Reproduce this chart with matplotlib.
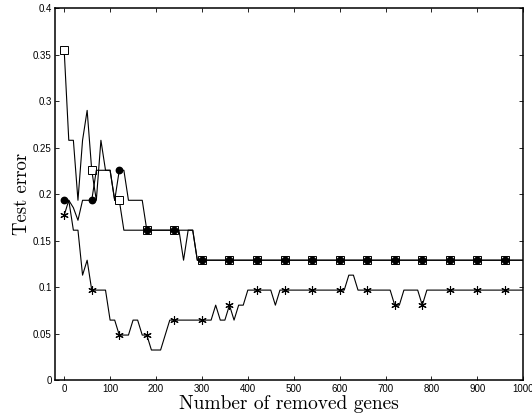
import numpy as np
import matplotlib
matplotlib.use("Agg")
import matplotlib.pyplot as plt
from matplotlib.ticker import FormatStrFormatter, MultipleLocator

# number of removed genes (one point every 10 genes)
genes = np.arange(0, 1001, 10)

# test error curves
err_square = [
    0.3548, 0.2581, 0.2581, 0.1935, 0.2581, 0.2903, 0.2258, 0.1935, 0.2581, 0.2258,
    0.2258, 0.1935, 0.1935, 0.1613, 0.1613, 0.1613, 0.1613, 0.1613, 0.1613, 0.1613,
    0.1613, 0.1613, 0.1613, 0.1613, 0.1613, 0.1613, 0.1613, 0.1613, 0.1613, 0.1290,
    0.1290, 0.1290, 0.1290, 0.1290, 0.1290, 0.1290, 0.1290, 0.1290, 0.1290, 0.1290,
    0.1290, 0.1290, 0.1290, 0.1290, 0.1290, 0.1290, 0.1290, 0.1290, 0.1290, 0.1290,
    0.1290, 0.1290, 0.1290, 0.1290, 0.1290, 0.1290, 0.1290, 0.1290, 0.1290, 0.1290,
    0.1290, 0.1290, 0.1290, 0.1290, 0.1290, 0.1290, 0.1290, 0.1290, 0.1290, 0.1290,
    0.1290, 0.1290, 0.1290, 0.1290, 0.1290, 0.1290, 0.1290, 0.1290, 0.1290, 0.1290,
    0.1290, 0.1290, 0.1290, 0.1290, 0.1290, 0.1290, 0.1290, 0.1290, 0.1290, 0.1290,
    0.1290, 0.1290, 0.1290, 0.1290, 0.1290, 0.1290, 0.1290, 0.1290, 0.1290, 0.1290,
    0.1290]
err_circle = [
    0.1935, 0.1935, 0.1855, 0.1720, 0.1935, 0.1935, 0.1935, 0.2258, 0.2258, 0.2258,
    0.2258, 0.1935, 0.2258, 0.2258, 0.1935, 0.1935, 0.1935, 0.1935, 0.1613, 0.1613,
    0.1613, 0.1613, 0.1613, 0.1613, 0.1613, 0.1613, 0.1290, 0.1613, 0.1613, 0.1290,
    0.1290, 0.1290, 0.1290, 0.1290, 0.1290, 0.1290, 0.1290, 0.1290, 0.1290, 0.1290,
    0.1290, 0.1290, 0.1290, 0.1290, 0.1290, 0.1290, 0.1290, 0.1290, 0.1290, 0.1290,
    0.1290, 0.1290, 0.1290, 0.1290, 0.1290, 0.1290, 0.1290, 0.1290, 0.1290, 0.1290,
    0.1290, 0.1290, 0.1290, 0.1290, 0.1290, 0.1290, 0.1290, 0.1290, 0.1290, 0.1290,
    0.1290, 0.1290, 0.1290, 0.1290, 0.1290, 0.1290, 0.1290, 0.1290, 0.1290, 0.1290,
    0.1290, 0.1290, 0.1290, 0.1290, 0.1290, 0.1290, 0.1290, 0.1290, 0.1290, 0.1290,
    0.1290, 0.1290, 0.1290, 0.1290, 0.1290, 0.1290, 0.1290, 0.1290, 0.1290, 0.1290,
    0.1290]
err_star = [
    0.1774, 0.1935, 0.1613, 0.1613, 0.1129, 0.1290, 0.0968, 0.0968, 0.0968, 0.0968,
    0.0645, 0.0645, 0.0484, 0.0484, 0.0484, 0.0645, 0.0645, 0.0484, 0.0484, 0.0323,
    0.0323, 0.0323, 0.0484, 0.0645, 0.0645, 0.0645, 0.0645, 0.0645, 0.0645, 0.0645,
    0.0645, 0.0645, 0.0645, 0.0806, 0.0645, 0.0645, 0.0806, 0.0645, 0.0806, 0.0806,
    0.0968, 0.0968, 0.0968, 0.0968, 0.0968, 0.0968, 0.0806, 0.0968, 0.0968, 0.0968,
    0.0968, 0.0968, 0.0968, 0.0968, 0.0968, 0.0968, 0.0968, 0.0968, 0.0968, 0.0968,
    0.0968, 0.0968, 0.1129, 0.1129, 0.0968, 0.0968, 0.0968, 0.0968, 0.0968, 0.0968,
    0.0968, 0.0968, 0.0806, 0.0806, 0.0968, 0.0968, 0.0968, 0.0968, 0.0806, 0.0968,
    0.0968, 0.0968, 0.0968, 0.0968, 0.0968, 0.0968, 0.0968, 0.0968, 0.0968, 0.0968,
    0.0968, 0.0968, 0.0968, 0.0968, 0.0968, 0.0968, 0.0968, 0.0968, 0.0968, 0.0968,
    0.0968]

plt.rcParams['font.family'] = ['Liberation Sans', 'DejaVu Sans']

fig = plt.figure(figsize=(5.32, 4.16), dpi=100)
ax = fig.add_axes([0.1034, 0.0865, 0.8802, 0.8931])

ax.plot(genes, err_square, color='k', lw=0.8, marker='s', markevery=6,
        markersize=5.8, markerfacecolor='white', markeredgecolor='k',
        markeredgewidth=0.7, zorder=3)
ax.plot(genes, err_circle, color='k', lw=0.8, marker='o', markevery=6,
        markersize=4.6, markerfacecolor='k', markeredgecolor='k', zorder=4)
ax.plot(genes, err_star, color='k', lw=0.8, marker=(6, 2, 0), markevery=6,
        markersize=6, markeredgecolor='k', markeredgewidth=0.8, zorder=5)

ax.set_xlim(-20, 1000)
ax.set_ylim(0, 0.4)
ax.xaxis.set_major_locator(MultipleLocator(100))
ax.yaxis.set_major_locator(MultipleLocator(0.05))
ax.yaxis.set_major_formatter(FormatStrFormatter('%g'))

ax.tick_params(direction='in', top=True, right=True, length=3, width=0.6,
               labelsize=7, pad=2.5)
ax.tick_params(axis='x', pad=3)
for s in ax.spines.values():
    s.set_linewidth(1.1)

ax.set_xlabel('Number of removed genes', fontfamily='cmr10', fontsize=14,
              labelpad=0.5)
ax.set_ylabel('Test error', fontfamily='cmr10', fontsize=13.5, labelpad=1)

fig.savefig('out.png', dpi=100)
